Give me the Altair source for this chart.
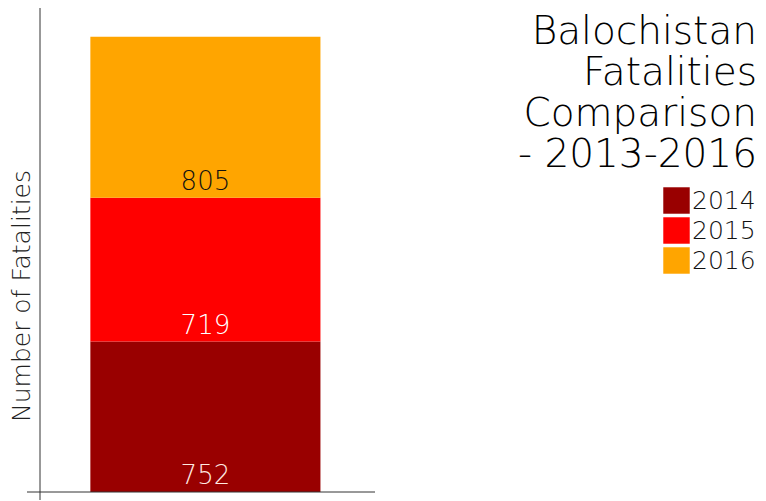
import altair as alt
import pandas as pd

years = ["2014", "2015", "2016"]
fatalities = [752, 719, 805]
bar_colors = ["#990000", "#ff0000", "#ffa500"]
label_colors = ["#ffe9e0", "#ffffff", "#111111"]
category = "Balochistan"
title_lines = "Balochistan\nFatalities\nComparison\n- 2013-2016"
y_title = "Number of Fatalities"

df = pd.DataFrame({
    "cat": [category] * len(years),
    "year": years,
    "value": fatalities,
    "order": list(range(len(years))),
    "lc": label_colors,
})

FONT = "DejaVu Sans"
FW = 200
W, H = 335, 484

x_enc = alt.X("cat:N", axis=None,
              scale=alt.Scale(paddingInner=0, paddingOuter=0.228, align=0.48))
y_scale = alt.Scale(domain=[0, 2420], nice=False)

bars = alt.Chart(df).mark_bar().encode(
    x=x_enc,
    y=alt.Y("value:Q", stack="zero", scale=y_scale, axis=None),
    color=alt.Color("year:N", scale=alt.Scale(domain=years, range=bar_colors),
                    legend=alt.Legend(title=None, orient="none", legendX=623, legendY=179,
                                      symbolType="square", symbolSize=700,
                                      symbolStrokeWidth=0, symbolOpacity=1,
                                      labelFont=FONT, labelFontSize=25, labelFontWeight=FW,
                                      labelColor="#111",
                                      labelOffset=2, rowPadding=3, padding=0)),
    order=alt.Order("order:Q"),
)

labels = alt.Chart(df).transform_stack(
    stack="value", groupby=["cat"], as_=["y0", "y1"],
    sort=[alt.SortField("order", order="ascending")]
).mark_text(font=FONT, fontSize=26, fontWeight=FW, baseline="alphabetic", dy=-8).encode(
    x=x_enc,
    y=alt.Y("y0:Q", scale=y_scale, axis=None),
    text=alt.Text("value:Q"),
    color=alt.Color("lc:N", scale=None, legend=None),
)

title_df = pd.DataFrame({"t": [title_lines]})
title = alt.Chart(title_df).mark_text(
    font=FONT, fontSize=39, fontWeight=FW, lineHeight=41, align="right", baseline="alphabetic",
    lineBreak="\n", color="#000"
).encode(x=alt.value(717), y=alt.value(36), text="t:N")

ytitle_df = pd.DataFrame({"t": [y_title]})
ytitle = alt.Chart(ytitle_df).mark_text(
    font=FONT, fontSize=25, fontWeight=FW, angle=270, align="center", baseline="middle",
    color="#222"
).encode(x=alt.value(-18), y=alt.value(288), text="t:N")

vline = alt.Chart(ytitle_df).mark_rule(color="#333", strokeWidth=1).encode(
    x=alt.value(0), y=alt.value(0), y2=alt.value(492))
hline = alt.Chart(ytitle_df).mark_rule(color="#333", strokeWidth=1).encode(
    x=alt.value(-13), x2=alt.value(W), y=alt.value(H))

chart = alt.layer(bars, labels, title, ytitle, vline, hline).properties(
    width=W, height=H,
    autosize=alt.AutoSizeParams(type="none"),
    padding={"left": 40, "top": 8, "right": 766 - 40 - W, "bottom": 501 - 8 - H},
).configure(background="white", view=alt.ViewConfig(stroke=None))

chart.save("out.html", embed_options={"renderer": "svg", "actions": False})
